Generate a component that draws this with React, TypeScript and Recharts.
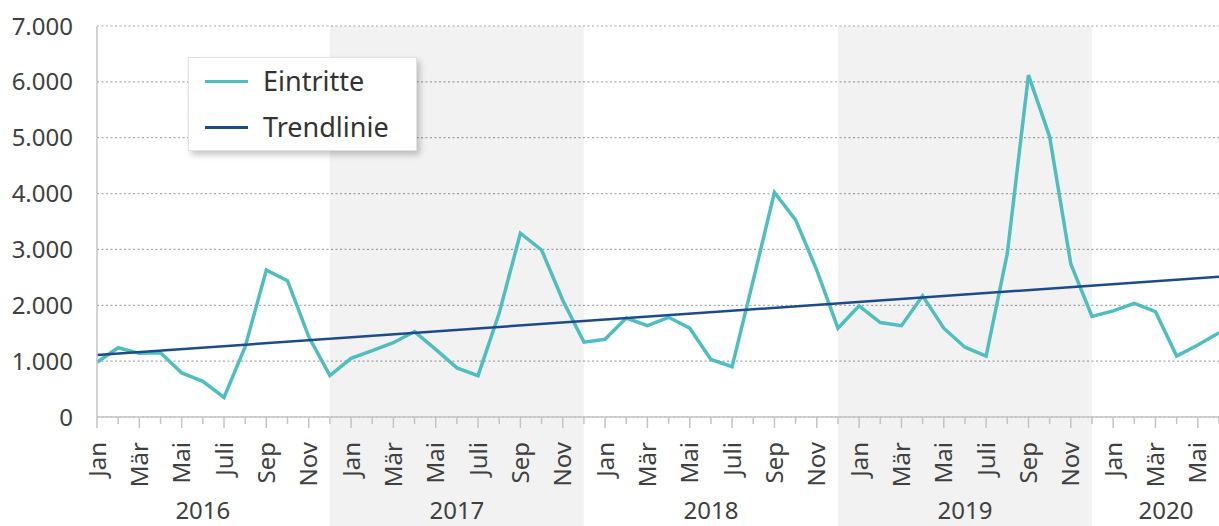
import React from 'react';
import {
  LineChart,
  Line,
  XAxis,
  YAxis,
  CartesianGrid,
  ReferenceArea,
  Legend
} from 'recharts';

const monthNames = ['Jan', 'Feb', 'Mär', 'Apr', 'Mai', 'Juni', 'Juli', 'Aug', 'Sep', 'Okt', 'Nov', 'Dez'];
const years = ['2016', '2017', '2018', '2019', '2020'];
const shadedYears = ['2017', '2019'];

// Eintritte per month, Jan 2016 – Jun 2020
const eintritte = [
  980, 1240, 1140, 1150, 790, 640, 350, 1260, 2630, 2440, 1440, 740,
  1050, 1190, 1330, 1530, 1210, 880, 740, 1860, 3290, 2990, 2090, 1340,
  1390, 1770, 1635, 1785, 1590, 1030, 900, 2450, 4020, 3530, 2630, 1590,
  1990, 1690, 1635, 2170, 1590, 1250, 1090, 2930, 6120, 5020, 2740, 1800,
  1900, 2035, 1885, 1090, 1290, 1510
];

// linear trend, start and end value
const trendStart = 1110;
const trendEnd = 2510;

const yTicks = [0, 1000, 2000, 3000, 4000, 5000, 6000, 7000];

const lastIdx = eintritte.length - 1;

const rows = eintritte.map((v, i) => ({
  i,
  month: monthNames[i % 12],
  year: years[Math.floor(i / 12)],
  eintritte: v,
  trend: i === 0 ? trendStart : i === lastIdx ? trendEnd : null
}));

const yearRange = (y: string) => {
  const idx = rows.filter((r) => r.year === y).map((r) => r.i);
  return [Math.min(...idx), Math.max(...idx)];
};

const yearCenters = years.map((y) => {
  const [a, b] = yearRange(y);
  const end = b === lastIdx && b - a < 11 ? b + 1 : b;
  return (a - 1 + end) / 2;
});

const fmt = (v: number) => String(v).replace(/\B(?=(\d{3})+(?!\d))/g, '.');

const TEAL = '#4fbebe';
const NAVY = '#1d4a8a';
const AXIS = '#c4c4c4';
const TEXT = '#404040';

const MonthTick = (props: any) => {
  const { x, y, payload } = props;
  const i = payload.value;
  const major = i % 2 === 0;
  return (
    <g>
      <line x1={x} x2={x} y1={y} y2={y + (major ? 11 : 7)} stroke={AXIS} strokeWidth={1.5} />
      {major && (
        <text
          transform={`translate(${x},${y + 25}) rotate(-90)`}
          textAnchor="end"
          dy="0.36em"
          fontSize={24}
          fill={TEXT}
        >
          {rows[i].month}
        </text>
      )}
    </g>
  );
};

const YearTick = (props: any) => {
  const { x, y, payload } = props;
  const k = yearCenters.indexOf(payload.value);
  return (
    <text x={x} y={y + 22} textAnchor="middle" fontSize={24} fill={TEXT}>
      {years[k]}
    </text>
  );
};

const LegendBox = () => (
  <div
    style={{
      width: 229,
      height: 94,
      background: '#fff',
      border: '1px solid #e2e2e2',
      boxShadow: '3px 4px 6px rgba(0,0,0,0.22)',
      boxSizing: 'border-box',
      position: 'relative',
      fontSize: 27,
      color: '#333'
    }}
  >
    {[
      { name: 'Eintritte', color: TEAL, top: 23 },
      { name: 'Trendlinie', color: NAVY, top: 69 }
    ].map((e) => (
      <div key={e.name}>
        <div style={{ position: 'absolute', left: 16, top: e.top - 1.5, width: 43, height: 3, background: e.color }} />
        <div style={{ position: 'absolute', left: 74, top: e.top - 19, lineHeight: '38px' }}>{e.name}</div>
      </div>
    ))}
  </div>
);

const App: React.FC = () => {
  return (
    <div style={{ position: 'absolute', left: 0, top: 0, fontFamily: '"Noto Sans", sans-serif' }}>
      <LineChart width={1219} height={526} data={rows} margin={{ top: 26, right: 0, left: 0, bottom: 0 }}>
        {shadedYears.map((y) => {
          const [a, b] = yearRange(y);
          return (
            <ReferenceArea
              key={y}
              x1={a - 1}
              x2={b}
              ifOverflow="visible"
              shape={(p: any) => (
                <rect x={p.x} y={p.y} width={p.width} height={p.height + 109} fill="rgba(0,0,0,0.05)" />
              )}
            />
          );
        })}
        <CartesianGrid vertical={false} stroke="#a8a8a8" strokeDasharray="2 2.5" strokeWidth={1.2} />
        <XAxis
          dataKey="i"
          type="number"
          domain={[0, lastIdx]}
          ticks={rows.map((r) => r.i)}
          interval={0}
          height={80}
          tickSize={0}
          tickMargin={0}
          tickLine={false}
          axisLine={{ stroke: AXIS, strokeWidth: 1.5 }}
          tick={<MonthTick />}
        />
        <XAxis
          xAxisId="year"
          dataKey="i"
          type="number"
          domain={[0, lastIdx]}
          ticks={yearCenters}
          interval={0}
          height={29}
          tickSize={0}
          tickMargin={0}
          tickLine={false}
          axisLine={false}
          tick={<YearTick />}
        />
        <YAxis
          domain={[0, 7000]}
          ticks={yTicks}
          width={97}
          tickSize={0}
          tickMargin={24}
          tickLine={false}
          axisLine={{ stroke: AXIS, strokeWidth: 1.5 }}
          tickFormatter={fmt}
          tick={{ fontSize: 24, fill: TEXT }}
        />
        <Legend
          layout="horizontal"
          verticalAlign="middle"
          align="center"
          wrapperStyle={{ position: 'absolute', left: 188, top: 57, width: 229, height: 94 }}
          content={<LegendBox />}
        />
        <Line
          dataKey="eintritte"
          stroke={TEAL}
          strokeWidth={3.5}
          dot={false}
          isAnimationActive={false}
        />
        <Line
          dataKey="trend"
          stroke={NAVY}
          strokeWidth={2.5}
          dot={false}
          connectNulls
          isAnimationActive={false}
        />
      </LineChart>
    </div>
  );
};

export default App;
